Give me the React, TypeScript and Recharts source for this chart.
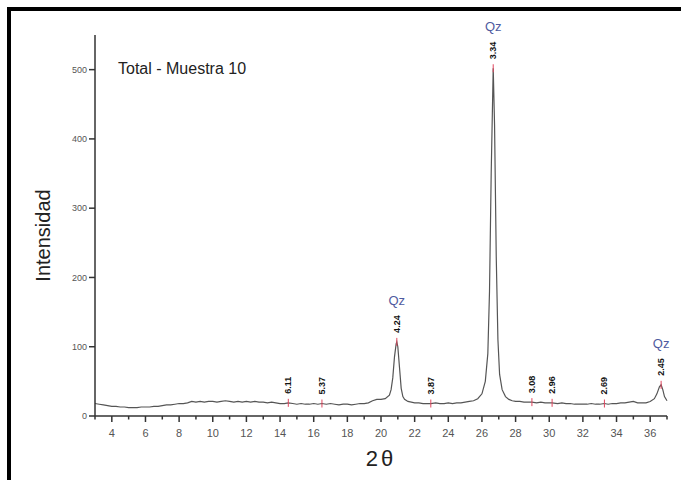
import React from "react";
import {
  ComposedChart,
  Line,
  Scatter,
  XAxis,
  YAxis,
} from "recharts";

// diffractogram trace (2θ, counts)
const twoTheta = [
  3.0, 3.25, 3.5, 3.75, 4.0, 4.25, 4.5, 4.75, 5.0, 5.25, 5.5, 5.75, 6.0, 6.25,
  6.5, 6.75, 7.0, 7.25, 7.5, 7.75, 8.0, 8.25, 8.5, 8.75, 9.0, 9.25, 9.5, 9.75,
  10.0, 10.25, 10.5, 10.75, 11.0, 11.25, 11.5, 11.75, 12.0, 12.25, 12.5, 12.75,
  13.0, 13.25, 13.5, 13.75, 14.0, 14.25, 14.49, 14.75, 15.0, 15.25, 15.5, 15.75,
  16.0, 16.25, 16.49, 16.75, 17.0, 17.25, 17.5, 17.75, 18.0, 18.25, 18.5, 18.75,
  19.0, 19.25, 19.5, 19.75, 20.0, 20.25, 20.5, 20.6, 20.7, 20.8, 20.9, 20.94,
  21.0, 21.1, 21.2, 21.3, 21.4, 21.6, 21.8, 22.0, 22.25, 22.5, 22.75, 22.96,
  23.25, 23.5, 23.75, 24.0, 24.25, 24.5, 24.75, 25.0, 25.25, 25.5, 25.75, 26.0,
  26.2, 26.35, 26.45, 26.55, 26.67, 26.75, 26.85, 26.95, 27.05, 27.2, 27.4,
  27.6, 27.8, 28.0, 28.25, 28.5, 28.75, 28.97, 29.25, 29.5, 29.75, 30.0, 30.17,
  30.5, 30.75, 31.0, 31.25, 31.5, 31.75, 32.0, 32.25, 32.5, 32.75, 33.0, 33.28,
  33.5, 33.75, 34.0, 34.25, 34.5, 34.75, 35.0, 35.25, 35.5, 35.75, 36.0, 36.25,
  36.4, 36.55, 36.65, 36.75, 36.85, 37.0,
];
const counts = [
  18, 17, 16, 15, 14, 14, 13, 13, 12, 12, 12, 13, 13, 13,
  14, 14, 15, 16, 16, 17, 18, 18, 19, 21, 20, 21, 20, 21,
  21, 20, 21, 22, 21, 20, 21, 20, 21, 20, 21, 20,
  20, 19, 20, 19, 18, 18, 19, 18, 17, 18, 17, 17,
  18, 17, 18, 17, 18, 17, 16, 17, 17, 16, 17, 18,
  18, 19, 22, 24, 24, 25, 30, 38, 55, 85, 104, 107,
  100, 70, 40, 28, 24, 21, 20, 19, 19, 18, 18, 18,
  19, 18, 18, 19, 18, 19, 19, 20, 21, 22, 25, 32,
  50, 90, 180, 350, 502, 420, 230, 110, 60, 38, 28,
  24, 22, 21, 21, 20, 20, 20, 19, 20, 19, 19, 19,
  18, 19, 18, 18, 17, 17, 17, 17, 18, 17, 17, 18,
  17, 18, 18, 19, 19, 20, 21, 19, 19, 19, 21, 25,
  32, 42, 45, 38, 28, 22,
];

// labelled reflections
const peakTheta = [14.49, 16.49, 20.94, 22.96, 26.67, 28.97, 30.17, 33.28, 36.65];
const peakD = ["6.11", "5.37", "4.24", "3.87", "3.34", "3.08", "2.96", "2.69", "2.45"];
const peakCounts = [19, 18, 107, 18, 502, 20, 19, 18, 45];
const peakPhase = ["", "", "Qz", "", "Qz", "", "", "", "Qz"];

const xTicks = [
  3, 4, 5, 6, 7, 8, 9, 10, 11, 12, 13, 14, 15, 16, 17, 18, 19, 20, 21, 22, 23,
  24, 25, 26, 27, 28, 29, 30, 31, 32, 33, 34, 35, 36, 37,
];
const yTicks = [0, 100, 200, 300, 400, 500];

const trace = twoTheta.map((x, i) => ({ x, y: counts[i] }));
const peaks = peakTheta.map((x, i) => ({
  x,
  y: peakCounts[i],
  d: peakD[i],
  phase: peakPhase[i],
}));

const FONT = "'Liberation Sans', Arial, sans-serif";

const XTick = (props: any) => {
  const { x, y, payload } = props;
  const v = payload.value;
  const major = v % 2 === 0;
  return (
    <g>
      <line x1={x} x2={x} y1={y} y2={y + (major ? 6 : 3.5)} stroke="#333" strokeWidth={1.5} />
      {major && v > 3 && v < 37 && (
        <text x={x} y={y + 21} textAnchor="middle" fontSize={11} fill="#555" fontFamily={FONT}>
          {v}
        </text>
      )}
    </g>
  );
};

const PeakMark = (props: any) => {
  const { cx, cy, payload } = props;
  const tx = cx + 3;
  const ty = cy - 9;
  return (
    <g>
      <line x1={cx} x2={cx} y1={cy - 4} y2={cy + 4} stroke="#e0465e" strokeWidth={1} />
      <text
        x={tx}
        y={ty}
        transform={`rotate(-90 ${tx} ${ty})`}
        fontSize={9}
        fontWeight="bold"
        fill="#111"
        fontFamily={FONT}
      >
        {payload.d}
      </text>
      {payload.phase && (
        <text x={cx} y={cy - 37} textAnchor="middle" fontSize={13} fill="#4f5ba0" fontFamily={FONT}>
          {payload.phase}
        </text>
      )}
    </g>
  );
};

const yLabel = (props: any) => {
  const vb = props.viewBox;
  const cx = vb.x + 43;
  const cy = vb.y + vb.height / 2 + 10;
  return (
    <text
      x={cx}
      y={cy}
      transform={`rotate(-90 ${cx} ${cy})`}
      textAnchor="middle"
      dominantBaseline="central"
      fontSize={20}
      fill="#222"
      fontFamily={FONT}
    >
      Intensidad
    </text>
  );
};

const xLabel = (props: any) => {
  const vb = props.viewBox;
  return (
    <text
      x={vb.x + vb.width / 2}
      y={vb.y + 50}
      textAnchor="middle"
      fontSize={22}
      fill="#222"
      letterSpacing={3}
      fontFamily={FONT}
    >
      2θ
    </text>
  );
};

export default function App() {
  return (
    <div style={{ position: "absolute", left: 0, top: 0, width: 681, height: 480, overflow: "hidden", background: "#fff" }}>
      <div
        style={{
          position: "absolute",
          left: 7,
          top: 7,
          width: 674,
          height: 473,
          borderTop: "4px solid #000",
          borderLeft: "4px solid #000",
        }}
      />
      <div
        style={{
          position: "absolute",
          left: 118,
          top: 60,
          fontFamily: FONT,
          fontSize: 16,
          color: "#222",
          whiteSpace: "nowrap",
        }}
      >
        Total - Muestra 10
      </div>
      <div style={{ position: "absolute", left: 0, top: 0 }}>
        <ComposedChart
          width={681}
          height={480}
          margin={{ top: 35, right: 14, bottom: 4, left: 0 }}
        >
          <XAxis
            type="number"
            dataKey="x"
            domain={[3, 37]}
            ticks={xTicks}
            interval={0}
            tick={<XTick />}
            tickLine={false}
            tickSize={0}
            tickMargin={0}
            height={60}
            axisLine={{ stroke: "#333", strokeWidth: 1.5 }}
            label={xLabel}
          />
          <YAxis
            type="number"
            domain={[0, 550]}
            ticks={yTicks}
            interval={0}
            width={95}
            tickSize={6}
            tickMargin={2}
            tickLine={{ stroke: "#333", strokeWidth: 1.5 }}
            axisLine={{ stroke: "#333", strokeWidth: 1.5 }}
            tick={{ fontSize: 9, fill: "#555", fontFamily: FONT }}
            label={yLabel}
          />
          <Line
            data={trace}
            dataKey="y"
            type="linear"
            stroke="#555"
            strokeWidth={1.2}
            dot={false}
            activeDot={false}
            isAnimationActive={false}
          />
          <Scatter
            data={peaks}
            dataKey="y"
            shape={PeakMark}
            isAnimationActive={false}
          />
        </ComposedChart>
      </div>
    </div>
  );
}
